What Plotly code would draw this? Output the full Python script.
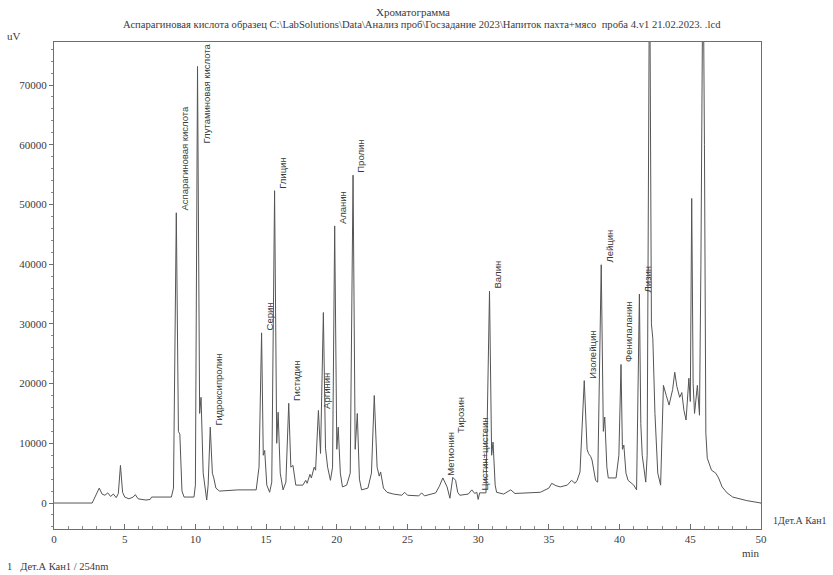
import plotly.graph_objects as go

# ---------------- data ----------------
time_min = [
    0.0, 2.7, 3.0, 3.2, 3.4, 3.6, 3.8, 4.0, 4.2, 4.4, 4.55, 4.7, 4.85, 5.0, 5.3, 5.6, 5.75, 5.95,
    6.5, 6.8, 6.9, 8.3, 8.45, 8.65, 8.8, 8.9, 9.05, 9.2, 9.9, 10.0, 10.15, 10.3, 10.4, 10.55,
    10.8, 10.9, 11.05, 11.2, 11.3, 11.45, 11.7, 13.0, 14.3, 14.5, 14.68, 14.8, 14.9, 15.05,
    15.25, 15.4, 15.6, 15.75, 15.85, 16.0, 16.2, 16.4, 16.6, 16.75, 16.9, 17.1, 17.6, 17.8,
    17.9, 18.1, 18.2, 18.4, 18.5, 18.7, 18.85, 19.05, 19.2, 19.35, 19.55, 19.7, 19.85, 20.0,
    20.1, 20.25, 20.4, 20.7, 20.95, 21.15, 21.3, 21.45, 21.6, 21.75, 22.2, 22.45, 22.65,
    22.85, 23.0, 23.1, 23.3, 23.55, 24.0, 24.6, 24.8, 25.0, 25.8, 26.0, 26.2, 27.0, 27.25,
    27.5, 27.8, 28.0, 28.2, 28.4, 28.55, 28.7, 29.3, 29.55, 29.75, 29.9, 30.0, 30.1, 30.55,
    30.8, 30.95, 31.05, 31.2, 31.3, 31.8, 32.3, 32.6, 33.5, 34.4, 35.0, 35.2, 35.5, 35.8,
    36.3, 36.6, 36.85, 37.0, 37.2, 37.5, 37.7, 37.8, 37.95, 38.05, 38.3, 38.45, 38.7, 38.85,
    38.95, 39.1, 39.2, 39.75, 39.95, 40.1, 40.2, 40.3, 40.45, 40.6, 41.0, 41.2, 41.4, 41.5,
    41.6, 41.85, 41.95, 42.12, 42.25, 42.35, 42.5, 42.7, 42.9, 43.1, 43.3, 43.5, 43.75, 43.9,
    44.05, 44.25, 44.4, 44.55, 44.7, 44.9, 45.0, 45.1, 45.2, 45.3, 45.5, 45.65, 45.75, 45.9,
    46.0, 46.1, 46.2, 46.5, 46.8, 47.0, 47.25, 47.6, 48.0, 49.0, 50.0, 50.3,
]
signal_uv = [
    0, 0, 1500, 2500, 1500, 1300, 1700, 1100, 1500, 900, 1600, 6300, 1800, 1000, 700, 1000, 1400, 700,
    500, 600, 1000, 1000, 2500, 48600, 12000, 11500, 2000, 1000, 1000, 3000, 73100, 15000, 17700, 5000,
    500, 3000, 12700, 5000, 4200, 2500, 2000, 2200, 2200, 6000, 28500, 8000, 8800, 3000,
    1800, 3500, 52300, 10000, 15200, 5000, 2200, 3500, 16700, 6000, 6300, 3000, 3000, 3800,
    3300, 4800, 4200, 6000, 5500, 15500, 8300, 31900, 9200, 6000, 3800, 6000, 46400, 9000,
    12700, 5000, 2700, 3000, 5000, 54900, 9000, 15000, 4000, 2200, 2500, 5000, 18000,
    6000, 4500, 5200, 2500, 1800, 1500, 1300, 1800, 1300, 1200, 1700, 1200, 1700, 2800,
    4200, 2700, 800, 4300, 3800, 1800, 1300, 1500, 2200, 1600, 1800, 600, 1700, 1700,
    35500, 8000, 10200, 3000, 1800, 1500, 2200, 1600, 1700, 1800, 2500, 3300, 2900, 2700,
    3000, 3800, 3300, 3800, 5200, 20500, 9000, 8300, 7800, 7200, 3800, 3500, 39900, 12000,
    14400, 6000, 4200, 4200, 8000, 23200, 9000, 9700, 5000, 3800, 3000, 2200, 35000, 13300,
    8000, 3500, 8000, 95000, 30000, 27500, 15000, 5000, 3000, 19700, 18000, 16400, 19000, 21900,
    19500, 17700, 18500, 15500, 13900, 20900, 17000, 51000, 20000, 15000, 19700, 14700, 40000, 95000,
    60000, 11700, 7500, 5500, 5000, 4200, 2700, 1700, 1000, 400, 0, -1200,
]

peak_names = [
    "Аспарагиновая кислота", "Глутаминовая кислота", "Гидроксипролин", "Серин", "Глицин",
    "Гистидин", "Аргинин", "Аланин", "Пролин", "Метионин", "Тирозин", "Цистин+цистеин",
    "Валин", "Изолейцин", "Лейцин", "Фенилаланин", "Лизин",
]
peak_times = [8.65, 10.15, 11.05, 14.68, 15.6, 16.6, 18.7, 19.85, 21.15, 27.5, 28.2, 29.9,
              30.8, 37.5, 38.7, 40.1, 41.4]

x_ticks = [0, 5, 10, 15, 20, 25, 30, 35, 40, 45, 50]
y_ticks = [0, 10000, 20000, 30000, 40000, 50000, 60000, 70000]

# ---------------- layout geometry ----------------
W, H = 833, 575
ML, MR, MT, MB = 54, 72, 42, 46
X_RANGE = [0, 50]
Y_RANGE = [-4350, 77200]
PW, PH = W - ML - MR, H - MT - MB
SERIF = "Liberation Serif"
SANS = "Liberation Sans"
INK = "#3a3a3a"


def px(xp):
    return (xp - ML) / PW


def py(yp):
    return (H - MB - yp) / PH


fig = go.Figure()
fig.add_trace(go.Scatter(
    x=time_min, y=signal_uv, mode="lines",
    line=dict(color="#555555", width=1), hoverinfo="skip", showlegend=False,
))

# ---------------- peak labels ----------------
LABEL_SIZE = 9.5
units_per_px_y = (Y_RANGE[1] - Y_RANGE[0]) / PH
px_per_min = PW / (X_RANGE[1] - X_RANGE[0])
char_px = 4.95
placed = []  # (x_px, y_bottom, y_top)
annotations = []
for name, t in zip(peak_names, peak_times):
    apex = max(v for tt, v in zip(time_min, signal_uv) if abs(tt - t) <= 0.06)
    length = len(name) * char_px * units_per_px_y
    xpix = t * px_per_min
    bottom = apex
    for (ox, ob, ot) in placed:
        if abs(ox - xpix) < 15 and bottom < ot and bottom + length > ob:
            bottom = ot + 3 * units_per_px_y
    if bottom + length > Y_RANGE[1]:
        y, anchor = Y_RANGE[1], "top"
        bottom = Y_RANGE[1] - length
    else:
        y, anchor = bottom, "bottom"
    placed.append((xpix, bottom, bottom + length))
    annotations.append(dict(
        x=t, y=y, xref="x", yref="y", text=name, showarrow=False, textangle=-90,
        xanchor="center", yanchor=anchor, xshift=8,
        font=dict(family=SANS, size=LABEL_SIZE, color=INK),
    ))

# ---------------- page texts ----------------
page_texts = [
    ("Хроматограмма", 413, 12, "center", 11),
    (r"Аспарагиновая кислота образец C:\LabSolutions\Data\Анализ проб\Госзадание 2023\Напиток пахта+мясо  проба 4.v1 21.02.2023. .lcd", 422, 25, "center", 10.6),
    ("uV", 14, 36, "center", 11),
    ("min", 751, 553, "center", 11),
    ("1Дет.А Кан1", 771, 520, "left", 10),
    ("1   Дет.А Кан1 / 254nm", 5, 566, "left", 10.5),
]
for text, xp, yp, xa, fs in page_texts:
    annotations.append(dict(
        x=px(xp), y=py(yp), xref="paper", yref="paper", text=text, showarrow=False,
        xanchor=xa, yanchor="middle", font=dict(family=SERIF, size=fs, color=INK),
    ))

axis_common = dict(
    showgrid=False, zeroline=False, showline=True, linecolor="#6e6e6e", linewidth=1,
    mirror=True, tickcolor="#6e6e6e", tickfont=dict(family=SERIF, size=11, color=INK),
)
fig.update_layout(
    width=W, height=H,
    margin=dict(l=ML, r=MR, t=MT, b=MB, pad=0),
    paper_bgcolor="white", plot_bgcolor="white",
    xaxis=dict(
        range=X_RANGE, tickmode="array", tickvals=x_ticks, ticks="inside", ticklen=5,
        minor=dict(dtick=1, ticks="inside", ticklen=3, tickcolor="#8a8a8a"),
        **axis_common,
    ),
    yaxis=dict(
        range=Y_RANGE, tickmode="array", tickvals=y_ticks, ticks="outside", ticklen=4,
        tickformat="d", minor=dict(dtick=2000, ticks="outside", ticklen=2, tickcolor="#8a8a8a"),
        **axis_common,
    ),
    annotations=annotations,
    showlegend=False,
)

fig.write_html(
    "out.html",
    config={"displayModeBar": False},
    post_script="document.body.style.margin='0';document.body.style.overflow='hidden';",
)
